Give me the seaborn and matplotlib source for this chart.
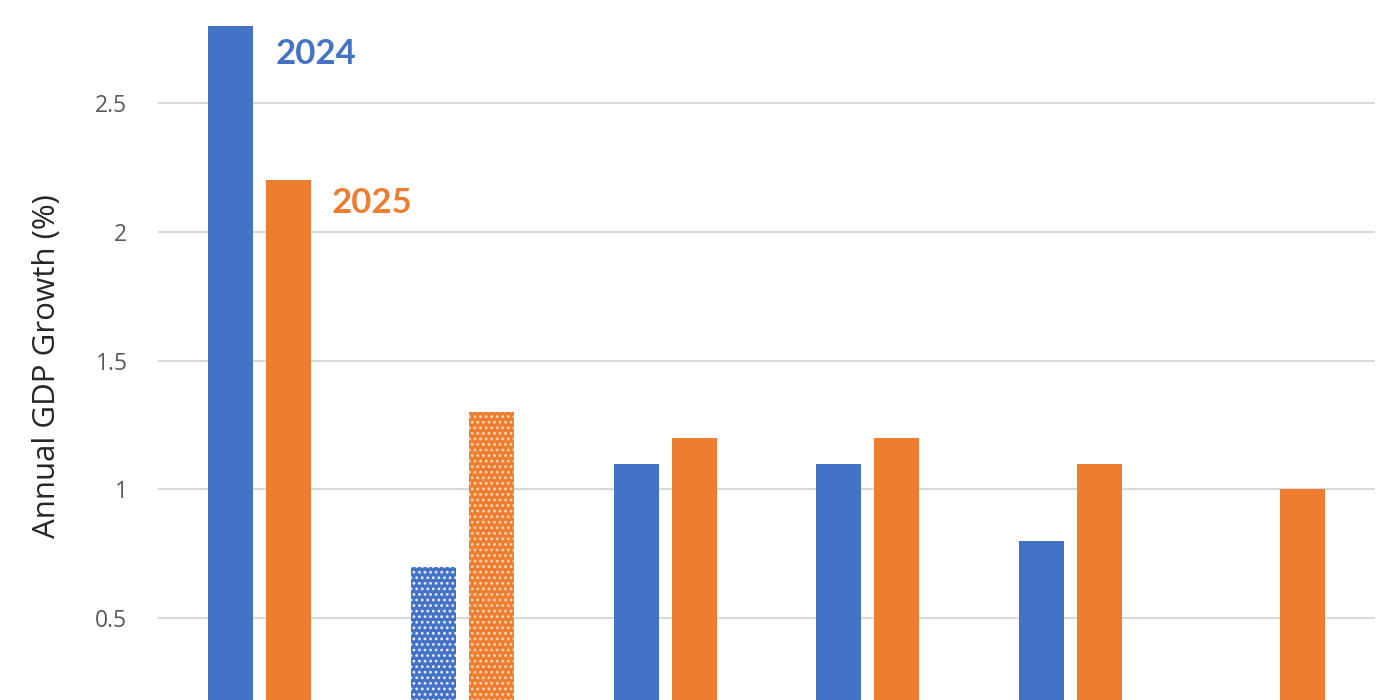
import matplotlib
matplotlib.use("Agg")
import matplotlib.pyplot as plt
import seaborn as sns
import pandas as pd
import numpy as np

# Data
categories = ["A", "B", "C", "D", "E", "F"]
growth_2024 = [2.8, 0.7, 1.1, 1.1, 0.8, np.nan]
growth_2025 = [2.2, 1.3, 1.2, 1.2, 1.1, 1.0]
years = ["2024", "2025"]
hatched_category = "B"

df = pd.DataFrame({
    "category": categories * 2,
    "year": [years[0]] * len(categories) + [years[1]] * len(categories),
    "growth": growth_2024 + growth_2025,
})

BLUE = "#4472C4"
ORANGE = "#ED7D31"

sns.set_theme(style="white")
plt.rcParams["font.family"] = ["Open Sans", "DejaVu Sans"]
plt.rcParams["hatch.linewidth"] = 1.2

fig = plt.figure(figsize=(14, 7), dpi=100)
ax = fig.add_axes([158 / 1400, 0.0, (1375 - 158) / 1400, 1.0])

sns.barplot(data=df, x="category", y="growth", hue="year", order=categories,
            hue_order=years, palette=[BLUE, ORANGE], width=0.571, gap=0.224,
            errorbar=None, legend=False, ax=ax, linewidth=0, saturation=1)

# hatch pattern for the second group
hidx = categories.index(hatched_category)
for p in ax.patches:
    cx = p.get_x() + p.get_width() / 2
    if abs(cx - hidx) < 0.4 and p.get_height() > 0:
        fc = p.get_facecolor()
        is_blue = fc[2] > fc[0]
        p.set_hatch("...")
        p.set_edgecolor("#e6eefc" if is_blue else "#fdd9b2")
        p.set_linewidth(0)

ax.set_xlim(-0.5, len(categories) - 0.5)
ax.set_ylim(0.5 - 82 / 257.5, 2.5 + 103 / 257.5)
ax.set_yticks([0.5, 1, 1.5, 2, 2.5])
ax.set_yticklabels(["0.5", "1", "1.5", "2", "2.5"])
ax.yaxis.grid(True, color="#d9d9d9", linewidth=1.5)
ax.set_axisbelow(True)
for s in ax.spines.values():
    s.set_visible(False)
ax.tick_params(axis="y", labelsize=16.5, labelcolor="#595959", length=0, pad=22)
ax.set_xticks([])
ax.set_xlabel("")
ax.set_ylabel("Annual GDP Growth (%)", fontsize=22.5, color="#262626")
ax.yaxis.set_label_coords(-0.079, 0.477)

# Series labels next to the first group's bars
ax.text(0.081, growth_2024[0] - 0.11, years[0], color=BLUE, fontsize=25,
        fontweight="bold", family="Lato", ha="left", va="center")
ax.text(0.358, growth_2025[0] - 0.09, years[1], color=ORANGE, fontsize=25,
        fontweight="bold", family="Lato", ha="left", va="center")

fig.savefig("out.png", dpi=100)
